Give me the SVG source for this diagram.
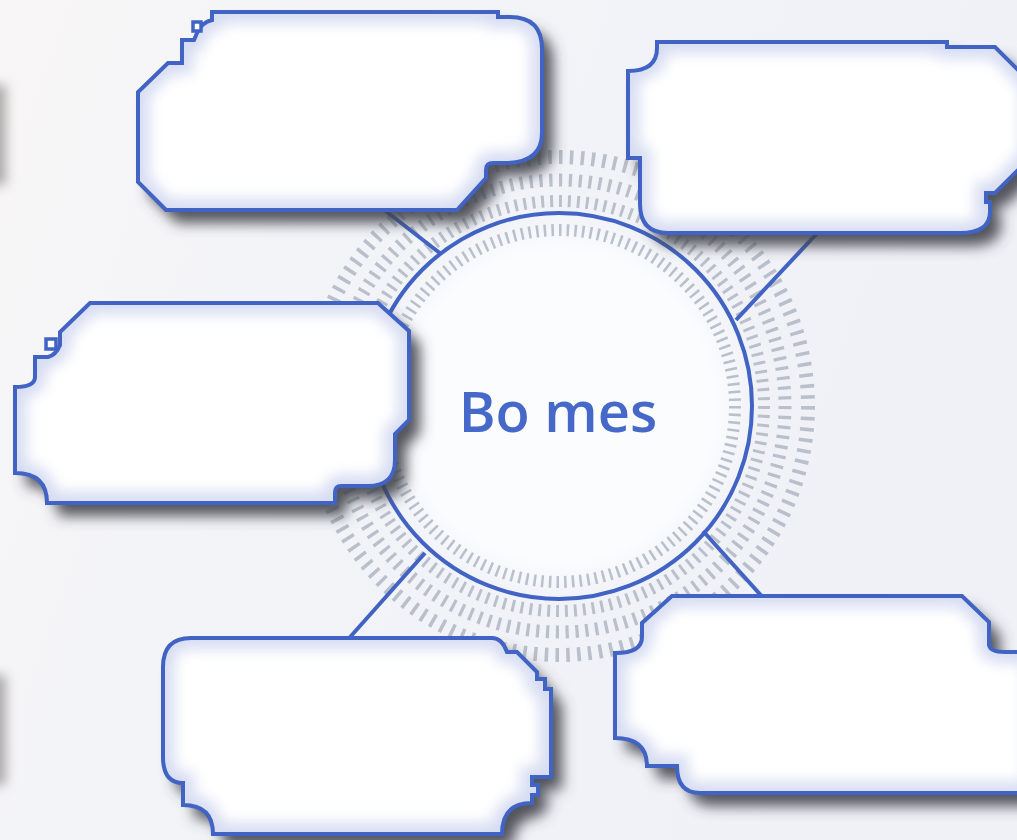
<svg xmlns="http://www.w3.org/2000/svg" width="1017" height="840" viewBox="0 0 1017 840">
<style>
.ring{fill:none;stroke:#b9c0cb}
.edge{fill:none;stroke:#4163c4;stroke-width:4}
.sq{fill:#fff;stroke:#4163c4;stroke-width:3.5}
.base{fill:#fff;filter:url(#drop)}
.glow{fill:none;stroke:#d6dcf2;stroke-width:22;filter:url(#soft)}
.conn{stroke:#4163c4;stroke-width:4;fill:none}
.title{font-family:"Open Sans","DejaVu Sans",sans-serif;font-weight:600;font-size:56px;fill:#4668c8}
</style>
<defs>
<linearGradient id="bg" x1="0" y1="0" x2="1" y2="0.3">
<stop offset="0" stop-color="#f8f6f6"/><stop offset="0.35" stop-color="#f3f4f8"/><stop offset="1" stop-color="#eff1f7"/>
</linearGradient>
<radialGradient id="disc" cx="0.5" cy="0.5" r="0.5">
<stop offset="0.8" stop-color="#fbfcfe"/><stop offset="1" stop-color="#f1f3f8"/>
</radialGradient>
<filter id="drop" x="-10%" y="-15%" width="135%" height="160%">
<feDropShadow dx="11" dy="13" stdDeviation="7" flood-color="#3f434b" flood-opacity="0.9"/>
</filter>
<filter id="soft"><feGaussianBlur stdDeviation="7"/></filter>
<filter id="blurL" x="-100%" y="-50%" width="300%" height="200%"><feGaussianBlur stdDeviation="6"/></filter>
<path id="p1" d="M 212 12 H 498 V 17 H 510 Q 542 17 542 49 V 133 Q 542 163 505 163 H 493 Q 486 163 486 170 V 178 L 457 210 H 166 L 138 182 V 92 L 168 63 H 182 V 40 H 194 L 197 33 Q 202 22 212 20 Z"/>
<path id="p2" d="M 657 42 H 947 V 47 H 995 L 1032 84 V 156 L 995 193 H 986 V 202 H 990 V 212 Q 990 233 960 233 H 668 Q 640 233 640 204 V 158 H 628 V 71 Q 657 71 657 48 Z"/>
<path id="p3" d="M 90 303 H 378 L 409 331 V 420 L 395 434 V 460 Q 395 486 368 486 H 341 Q 335 486 335 493 V 503 H 47 Q 47 473 15 473 V 387 Q 35 387 35 377 V 357 H 48 Q 56 355 60 345 V 332 Z"/>
<path id="p4" d="M 191 638 H 492 Q 502 638 507 652 H 517 L 537 672 V 679 H 545 V 689 H 551 V 777 H 532 V 785 H 538 V 795 H 532 V 803 Q 502 803 502 834 H 213 Q 213 805 183 805 V 783 Q 163 783 163 757 V 667 Q 163 638 191 638 Z"/>
<path id="p5" d="M 672 596 H 962 L 989 622 V 645 Q 990 652 1005 652 H 1035 V 793 H 700 Q 677 793 677 766 H 647 Q 647 738 615 738 V 653 Q 642 653 642 637 V 623 Z"/>
<clipPath id="c1"><use href="#p1"/></clipPath>
<clipPath id="c2"><use href="#p2"/></clipPath>
<clipPath id="c3"><use href="#p3"/></clipPath>
<clipPath id="c4"><use href="#p4"/></clipPath>
<clipPath id="c5"><use href="#p5"/></clipPath>
</defs>

<rect width="1017" height="840" fill="url(#bg)"/>
<rect x="-30" y="85" width="36" height="100" fill="#6f6a6a" opacity="0.55" filter="url(#blurL)"/>
<rect x="-30" y="675" width="36" height="110" fill="#6f6a6a" opacity="0.55" filter="url(#blurL)"/>

<g id="hub">
<circle cx="559" cy="406" r="193" fill="url(#disc)"/>
<circle class="ring" cx="559" cy="406" r="176" stroke-width="12" pathLength="144" stroke-dasharray="0.33 0.67"/>
<circle class="ring" cx="559" cy="406" r="205" stroke-width="12" pathLength="144" stroke-dasharray="0.33 0.67"/>
<circle class="ring" cx="559" cy="406" r="226" stroke-width="13" pathLength="144" stroke-dasharray="0.33 0.67"/>
<circle class="ring" cx="559" cy="406" r="249" stroke-width="14" pathLength="144" stroke-dasharray="0.33 0.67"/>
<circle cx="559" cy="406" r="193" fill="none" stroke="#4163c4" stroke-width="4"/>
</g>

<g id="connectors">
<line class="conn" x1="378" y1="205" x2="441" y2="254"/>
<line class="conn" x1="822" y1="228" x2="736" y2="320"/>
<line class="conn" x1="343" y1="645" x2="425" y2="553"/>
<line class="conn" x1="703" y1="531" x2="766" y2="601"/>
</g>

<g id="node1">
<use href="#p1" class="base"/>
<g clip-path="url(#c1)"><use href="#p1" class="glow"/></g>
<use href="#p1" class="edge"/>
<rect class="sq" x="193" y="22" width="8" height="9"/>
</g>

<g id="node2">
<use href="#p2" class="base"/>
<g clip-path="url(#c2)"><use href="#p2" class="glow"/></g>
<use href="#p2" class="edge"/>
</g>

<g id="node3">
<use href="#p3" class="base"/>
<g clip-path="url(#c3)"><use href="#p3" class="glow"/></g>
<use href="#p3" class="edge"/>
<rect class="sq" x="46" y="339" width="10" height="10"/>
</g>

<g id="node4">
<use href="#p4" class="base"/>
<g clip-path="url(#c4)"><use href="#p4" class="glow"/></g>
<use href="#p4" class="edge"/>
</g>

<g id="node5">
<use href="#p5" class="base"/>
<g clip-path="url(#c5)"><use href="#p5" class="glow"/></g>
<use href="#p5" class="edge"/>
</g>

<g id="label">
<text class="title" x="558" y="432" text-anchor="middle">Bo mes</text>
</g>
</svg>
